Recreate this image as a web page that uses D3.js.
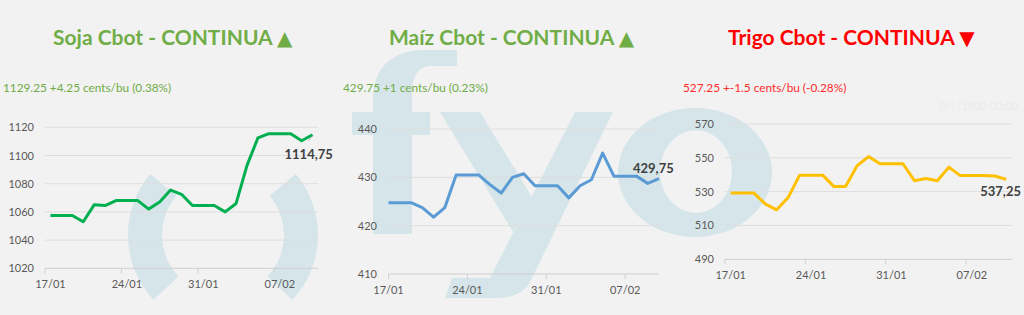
<!DOCTYPE html>
<html>
<meta charset="utf-8">

<!-- Load d3.js -->
<script src="https://d3js.org/d3.v7.min.js"></script>
<style>
  body { margin: 0; background: #f2f2f2; }
  svg { display: block; font-family: Lato, "Open Sans", sans-serif; }
</style>
<body>
<div id="my_dataviz"></div>

<script>
    // one point per calendar day
    const dates = ["17/01","18/01","19/01","20/01","21/01","22/01","23/01","24/01","25/01","26/01",
                   "27/01","28/01","29/01","30/01","31/01","01/02","02/02","03/02","04/02","05/02",
                   "06/02","07/02","08/02","09/02","10/02"];
    const tickDates = ["17/01","24/01","31/01","07/02"];

    const sojaValues = [1057.5, 1057.5, 1057.5, 1053, 1065, 1064.5, 1068, 1068, 1068, 1062,
                        1067, 1075.5, 1072.5, 1064.5, 1064.5, 1064.5, 1060, 1066, 1093, 1112.5,
                        1115.5, 1115.5, 1115.5, 1110.5, 1114.75];
    const maizValues = [424.75, 424.75, 424.75, 423.75, 421.75, 423.75, 430.5, 430.5, 430.5, 428.5,
                        426.75, 430, 430.75, 428.25, 428.25, 428.25, 425.75, 428.25, 429.5, 435,
                        430.25, 430.25, 430.25, 428.75, 429.75];
    const trigoValues = [529.25, 529.25, 529.25, 522.75, 519.25, 526.5, 539.75, 539.75, 539.75, 533,
                         533, 545.25, 550.75, 546.5, 546.5, 546.5, 536.5, 537.75, 536.5, 544.5,
                         539.5, 539.5, 539.5, 539.25, 537.25];

    const sojaTicks = [1020, 1040, 1060, 1080, 1100, 1120];
    const maizTicks = [410, 420, 430, 440];
    const trigoTicks = [490, 510, 530, 550, 570];

    const titles = ["Soja Cbot - CONTINUA", "Maíz Cbot - CONTINUA", "Trigo Cbot - CONTINUA"];
    const arrows = ["▲", "▲", "▼"];
    const subtitles = ["1129.25 +4.25 cents/bu (0.38%)", "429.75 +1 cents/bu (0.23%)", "527.25 +-1.5 cents/bu (-0.28%)"];
    const lastLabels = ["1114,75", "429,75", "537,25"];

    // layout of the three panels
    const panels = [
      { values: sojaValues, ticks: sojaTicks, mode: "band",
        subX: 3, titleX: 53, x0: 45, x1: 318, yTop: 127.3, yBottom: 268.3, yLabelX: 34,
        stroke: "#00b050", titleColor: "#70ad47", subColor: "#6fac46", labelDx: -28, labelDy: 24.5 },
      { values: maizValues, ticks: maizTicks, mode: "point",
        subX: 343, titleX: 389, x0: 388.5, x1: 659, yTop: 129, yBottom: 274, yLabelX: 377,
        stroke: "#5b9bd5", titleColor: "#70ad47", subColor: "#6fac46", labelDx: -26, labelDy: -6 },
      { values: trigoValues, ticks: trigoTicks, mode: "band",
        subX: 683, titleX: 728, x0: 725, x1: 1012, yTop: 124, yBottom: 259.3, yLabelX: 714,
        stroke: "#ffc000", titleColor: "#ff0000", subColor: "#ff2b2b", labelDx: -26, labelDy: 17 }
    ];

    const svg = d3.select("#my_dataviz")
      .append("svg")
        .attr("width", 1024)
        .attr("height", 315);

    svg.append("rect").attr("width", 1024).attr("height", 315).attr("fill", "#f2f2f2");

    // watermark logo behind the charts
    const wm = svg.append("g").attr("fill", "#d5e5e9");
    const ring = d3.arc().innerRadius(61).outerRadius(95);
    wm.append("path").attr("transform", "translate(223,235)")
      .attr("d", ring({startAngle: -133 * Math.PI / 180, endAngle: -50 * Math.PI / 180}));
    wm.append("path").attr("transform", "translate(223,235)")
      .attr("d", ring({startAngle: 50 * Math.PI / 180, endAngle: 133 * Math.PI / 180}));
    // f
    wm.append("path").attr("d", "M373,234 L373,100 C373,68 392,50 425,50 L457,50 L457,66 L432,66 C418,66 412,76 412,95 L412,234 Z");
    wm.append("path").attr("d", "M352,112 L430,112 L430,135 L352,135 Z");
    // y
    wm.append("path").attr("d", "M440,112 L480,112 L532,197 L513,232 Z");
    wm.append("path").attr("d", "M575,112 L613,112 L530,282 Q521,298 497,298 L445,298 L452,278 L490,278 Z");
    // o
    wm.append("path").attr("fill-rule", "evenodd")
      .attr("d", "M618,172.5 a77,64.5 0 1,0 154,0 a77,64.5 0 1,0 -154,0 Z M660,171.5 a36,41.5 0 1,0 72,0 a36,41.5 0 1,0 -72,0 Z");

    panels.forEach(function(p, k) {
      const g = svg.append("g");

      // title + arrow + change line
      const t = g.append("text")
        .attr("x", p.titleX).attr("y", 45)
        .style("font-size", "21px").style("font-weight", 700)
        .attr("fill", p.titleColor);
      t.append("tspan").text(titles[k] + " ");
      t.append("tspan")
        .style("font-family", "DejaVu Sans").style("font-size", "20px")
        .text(arrows[k]);
      g.append("text")
        .attr("x", p.subX).attr("y", 91.5)
        .style("font-size", "11.8px").style("font-weight", 400)
        .attr("fill", p.subColor)
        .text(subtitles[k]);

      // scales
      const x = (p.mode === "band" ? d3.scaleBand() : d3.scalePoint())
        .domain(dates)
        .range([p.x0, p.x1]);
      const off = p.mode === "band" ? x.bandwidth() / 2 : 0;
      const y = d3.scaleLinear()
        .domain(d3.extent(p.ticks))
        .range([p.yBottom, p.yTop]);

      // gridlines
      g.selectAll(".grid")
        .data(p.ticks)
        .join("line")
          .attr("x1", p.x0).attr("x2", p.x1)
          .attr("y1", d => y(d)).attr("y2", d => y(d))
          .attr("stroke", (d, i) => i === 0 ? "#cfcfcf" : "#dedede")
          .attr("stroke-width", 1);

      // y labels
      g.selectAll(".ylab")
        .data(p.ticks)
        .join("text")
          .attr("x", p.yLabelX).attr("y", d => y(d) + 4)
          .attr("text-anchor", "end")
          .style("font-size", "11px")
          .attr("fill", "#595959")
          .text(d => d);

      // x axis ticks and labels
      g.selectAll(".xtick")
        .data(tickDates)
        .join("line")
          .attr("x1", d => x(d)).attr("x2", d => x(d))
          .attr("y1", p.yBottom).attr("y2", p.yBottom + 5)
          .attr("stroke", "#cfcfcf");
      g.selectAll(".xlab")
        .data(tickDates)
        .join("text")
          .attr("x", d => x(d) + off).attr("y", p.yBottom + 20)
          .attr("text-anchor", "middle")
          .style("font-size", "11px")
          .attr("fill", "#595959")
          .text(d => d);

      // the line
      const line = d3.line()
        .x((d, i) => x(dates[i]) + off)
        .y(d => y(d));
      g.append("path")
        .datum(p.values)
        .attr("d", line)
        .attr("fill", "none")
        .attr("stroke", p.stroke)
        .attr("stroke-width", 3)
        .attr("stroke-linejoin", "round");

      // last value label
      const lx = x(dates[dates.length - 1]) + off;
      const ly = y(p.values[p.values.length - 1]);
      if (k === 0) {
        g.append("line")
          .attr("x1", lx - 4).attr("y1", ly + 6).attr("x2", lx - 1).attr("y2", ly + 2)
          .attr("stroke", "#a6a6a6").attr("stroke-width", 0.8);
      }
      g.append("text")
        .attr("x", lx + p.labelDx).attr("y", ly + p.labelDy)
        .style("font-size", "13px").style("font-weight", 700)
        .attr("fill", "#404040")
        .text(lastLabels[k]);
    });

    // faint stamp top right
    svg.append("text")
      .attr("x", 1018).attr("y", 110)
      .attr("text-anchor", "end")
      .style("font-size", "11px")
      .attr("fill", "#ebebeb")
      .text("0/1/1900 00:00");
</script>
</body>
</html>
